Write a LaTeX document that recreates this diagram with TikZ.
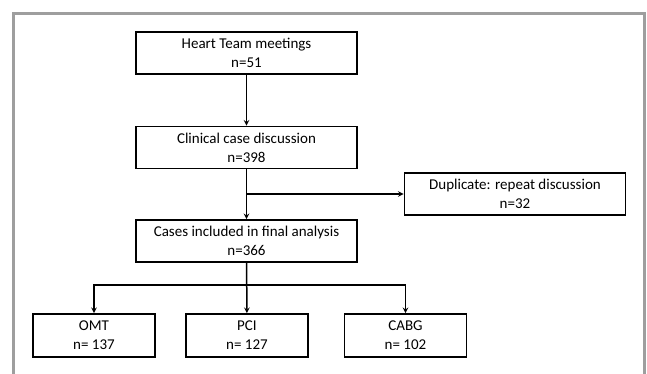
\documentclass[tikz,border=0pt]{standalone}
\usepackage{fontspec}
\setmainfont{Carlito}
\usepackage{tikz}
\usetikzlibrary{arrows}
\tikzset{>=stealth}

\begin{document}
\begin{tikzpicture}[x=1pt, y=-1pt,
		box/.style={draw, line width=1.6pt, align=center, inner sep=0pt,
			font=\fontsize{15}{19}\selectfont},
		wide/.style={box, minimum width=221pt, minimum height=42pt},
		small/.style={box, minimum width=122pt, minimum height=43pt},
		link/.style={line width=1.5pt}]
		\useasboundingbox (0,0) rectangle (647,374);
		% grey frame, open at the bottom
		\draw[line width=3pt, color=black!38] (13.5,380) -- (13.5,13.5) -- (644,13.5) -- (644,380);
		\node(meet)[wide] at (246.5,53){Heart Team meetings\\n=51};
		\node(disc)[wide] at (246.5,147.5){Clinical case discussion\\n=398};
		\node(dup)[wide] at (515,194){Duplicate: repeat discussion\\n=32};
		\node(incl)[wide] at (246.5,241){Cases included in final analysis\\n=366};
		\node(omt)[small] at (94,335.5){OMT\\n= 137};
		\node(pci)[small] at (247,335.5){PCI\\n= 127};
		\node(cabg)[small] at (405.5,335.5){CABG\\n= 102};
		\coordinate(split) at (246.5,194);
		\coordinate(bus) at (246.5,285);
		\draw[->, link](meet) to (disc);
		\draw[->, link](disc) to (incl);
		\draw[->, link](split) to (dup);
		\draw[->, link](incl) to (pci);
		\draw[->, link](bus) -| (omt);
		\draw[->, link](bus) -| (cabg);
	\end{tikzpicture}
\end{document}
